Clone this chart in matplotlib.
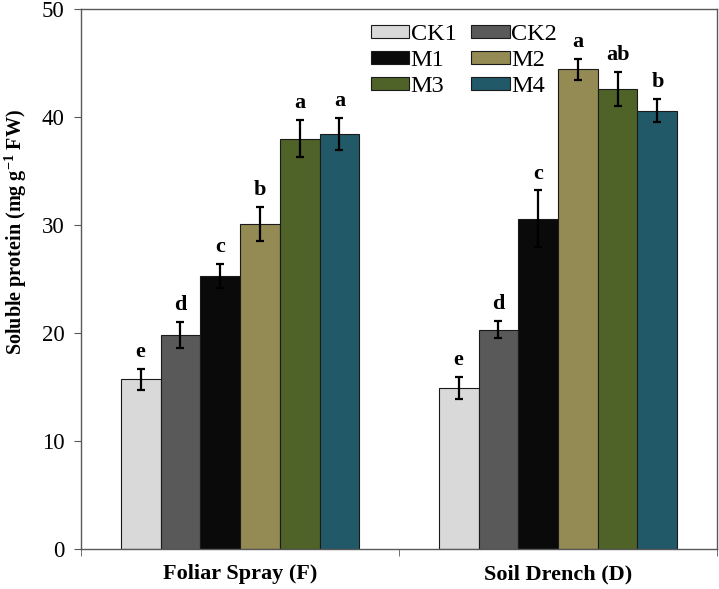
import numpy as np
import matplotlib
matplotlib.use('Agg')
import matplotlib.pyplot as plt
from matplotlib.patches import Patch

plt.rcParams['font.family'] = ['Liberation Serif', 'DejaVu Serif']
plt.rcParams['mathtext.fontset'] = 'custom'
plt.rcParams['mathtext.rm'] = 'Liberation Serif'
plt.rcParams['mathtext.bf'] = 'Liberation Serif:bold'

groups = ['Foliar Spray (F)', 'Soil Drench (D)']
treatments = ['CK1', 'CK2', 'M1', 'M2', 'M3', 'M4']
colors = ['#d9d9d9', '#595959', '#0a0a0a', '#948a54', '#4f6228', '#215968']

# mean and error per treatment, [Foliar, Soil]
means = {
    'CK1': [15.7, 14.9],
    'CK2': [19.8, 20.3],
    'M1': [25.3, 30.6],
    'M2': [30.1, 44.4],
    'M3': [38.0, 42.6],
    'M4': [38.4, 40.6],
}
errs = {
    'CK1': [1.0, 1.0],
    'CK2': [1.2, 0.8],
    'M1': [1.1, 2.6],
    'M2': [1.6, 1.0],
    'M3': [1.7, 1.6],
    'M4': [1.5, 1.1],
}
letters = {
    'CK1': ['e', 'e'],
    'CK2': ['d', 'd'],
    'M1': ['c', 'c'],
    'M2': ['b', 'a'],
    'M3': ['a', 'ab'],
    'M4': ['a', 'b'],
}

fig = plt.figure(figsize=(7.19, 5.89), dpi=100)
ax = fig.add_axes([0.1127, 0.0679, 0.8845, 0.9168])

x = np.arange(len(groups))
w = 0.125
for i, t in enumerate(treatments):
    pos = x + (i - 2.5) * w
    ax.bar(pos, means[t], width=w, color=colors[i], edgecolor='#1a1a1a', linewidth=0.8, zorder=2)
    ax.errorbar(pos, means[t], yerr=errs[t], fmt='none', ecolor='black',
                elinewidth=1.6, capsize=2.7, capthick=1.6, zorder=3)
    for p, m, e, lab in zip(pos, means[t], errs[t], letters[t]):
        ax.annotate(lab, (p, m + e), xytext=(0, 5), textcoords='offset points',
                    ha='center', va='bottom', fontsize=16, fontweight='bold')

ax.set_xlim(-0.5, 1.5)
ax.set_ylim(0, 50)
ax.set_yticks(np.arange(0, 51, 10))
ax.set_xticks(x)
ax.set_xticklabels(groups, fontsize=16, fontweight='bold')
ax.set_xticks([-0.5, 0.5, 1.5], minor=True)
ax.tick_params(axis='x', which='major', length=0, pad=11)
ax.tick_params(axis='x', which='minor', length=5, color='#595959')
ax.tick_params(axis='y', labelsize=16.5, length=5, color='#595959', direction='out', pad=7)
for s in ax.spines.values():
    s.set_color('#595959')
    s.set_linewidth(1.0)

ax.set_ylabel('Soluble protein (mg g$^{\\mathbf{-1}}$ FW)', fontsize=14.5, fontweight='bold')
ax.yaxis.set_label_coords(-0.082, 0.587)

handles = [Patch(facecolor=colors[i], edgecolor='#1a1a1a', linewidth=0.8, label=t)
           for i, t in enumerate(treatments)]
order = [0, 2, 4, 1, 3, 5]
ax.legend([handles[k] for k in order], [treatments[k] for k in order], ncol=2,
          loc='upper left', bbox_to_anchor=(0.44, 0.99), frameon=False,
          fontsize=17.5, handlelength=1.6, handleheight=0.45, handletextpad=0.05,
          columnspacing=0.6, labelspacing=0.2, borderaxespad=0)

fig.savefig('out.png', dpi=100)
